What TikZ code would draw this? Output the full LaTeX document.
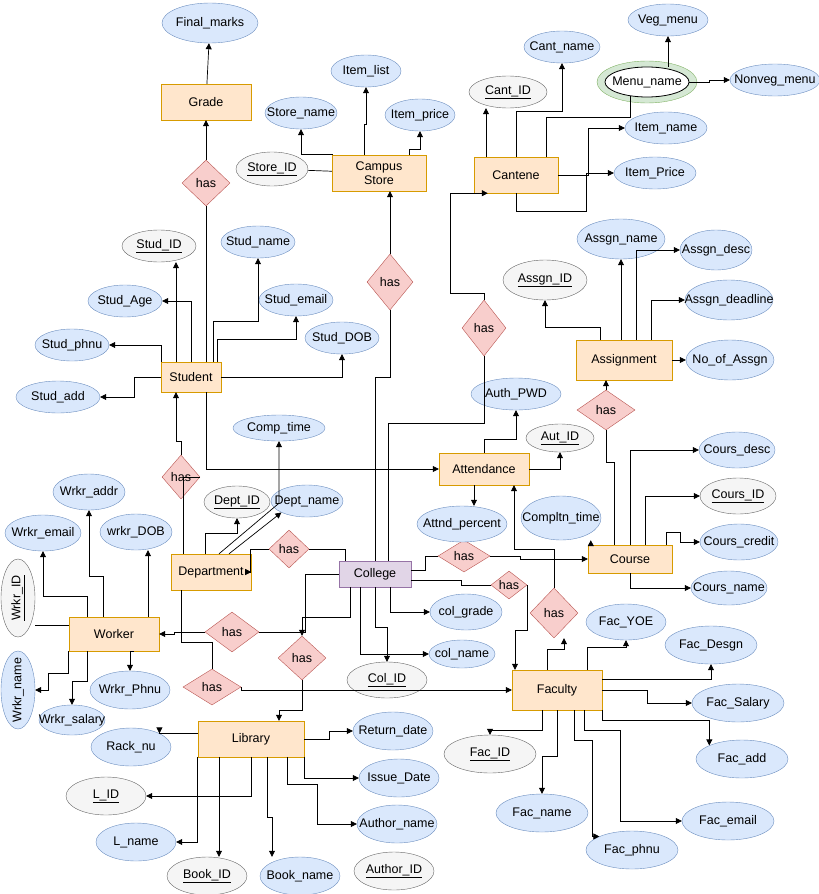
\documentclass[tikz,border=0pt]{standalone}
\usepackage{fontspec}
\setmainfont{Liberation Sans}
\usetikzlibrary{arrows.meta,shapes.geometric,calc,positioning}
\definecolor{entfill}{HTML}{FFE6CC}
\definecolor{entdraw}{HTML}{D79B00}
\definecolor{attfill}{HTML}{DAE8FC}
\definecolor{attdraw}{HTML}{6C8EBF}
\definecolor{keyfill}{HTML}{F5F5F5}
\definecolor{keydraw}{HTML}{666666}
\definecolor{relfill}{HTML}{F8CECC}
\definecolor{reldraw}{HTML}{B85450}
\definecolor{colfill}{HTML}{E1D5E7}
\definecolor{coldraw}{HTML}{9673A6}
\definecolor{ringfill}{HTML}{D5E8D4}
\definecolor{ringdraw}{HTML}{82B366}
\newcommand{\erfont}{\fontsize{12.5}{14.5}\selectfont}
\tikzset{
  entity/.style={rectangle,draw=entdraw,fill=entfill,font=\erfont,align=center,inner sep=1pt},
  attribute/.style={ellipse,draw=attdraw,fill=attfill,font=\erfont,inner xsep=-18pt,inner ysep=0pt,minimum width=78pt,minimum height=32pt},
  keyattr/.style={attribute,draw=keydraw,fill=keyfill},
  relation/.style={diamond,draw=reldraw,fill=relfill,font=\erfont,inner sep=-3pt,aspect=1},
  conn/.style={-{Triangle[length=6pt,width=6pt]},line width=0.7pt},
  plain/.style={line width=0.7pt}
}
\begin{document}
\begin{tikzpicture}[x=1pt,y=-1pt]
\useasboundingbox (0,0) rectangle (819,894);
% entities
\node[entity,minimum width=90pt,minimum height=36pt] (grade) at (206,102) {Grade};
\node[entity,minimum width=94pt,minimum height=36pt] (store) at (379,173) {Campus\\Store};
\node[entity,minimum width=84pt,minimum height=36pt] (cantene) at (516,175) {Cantene};
\node[entity,minimum width=60pt,minimum height=30pt] (student) at (191,377) {Student};
\node[entity,minimum width=90pt,minimum height=32pt] (attendance) at (484,469) {Attendance};
\node[entity,minimum width=96pt,minimum height=40pt] (assignment) at (624,360) {Assignment};
\node[entity,minimum width=80pt,minimum height=36pt] (department) at (211,572) {Department};
\node[entity,draw=coldraw,fill=colfill,minimum width=72pt,minimum height=26pt] (college) at (375,574) {College};
\node[entity,minimum width=84pt,minimum height=28pt] (course) at (630,559) {Course};
\node[entity,minimum width=90pt,minimum height=34pt] (worker) at (114,634) {Worker};
\node[entity,minimum width=90pt,minimum height=40pt] (faculty) at (557,690) {Faculty};
\node[entity,minimum width=106pt,minimum height=36pt] (library) at (251,739) {Library};
% relations
\node[relation,minimum width=48pt,minimum height=46pt] (hasgrade) at (206,183) {has};
\node[relation,minimum width=46pt,minimum height=56pt] (hasstore) at (390,282) {has};
\node[relation,minimum width=44pt,minimum height=56pt] (hascant) at (484,328) {has};
\node[relation,minimum width=58pt,minimum height=40pt] (hasassgn) at (606,410) {has};
\node[relation,minimum width=38pt,minimum height=44pt] (hasstud) at (181,477) {has};
\node[relation,minimum width=40pt,minimum height=38pt] (hasdept) at (289,549) {has};
\node[relation,minimum width=52pt,minimum height=32pt] (hascourse) at (464,556) {has};
\node[relation,minimum width=36pt,minimum height=28pt] (hasfacs) at (509,585) {has};
\node[relation,minimum width=48pt,minimum height=50pt] (hasfacc) at (554,613) {has};
\node[relation,minimum width=54pt,minimum height=40pt] (haswork) at (232,632) {has};
\node[relation,minimum width=48pt,minimum height=44pt] (haslib) at (302,658) {has};
\node[relation,minimum width=58pt,minimum height=36pt] (hasdf) at (212,687) {has};
% attributes
\node[attribute,minimum width=96pt,minimum height=40pt] (finalmarks) at (210,23) {Final\_marks};
\node[attribute,minimum width=70pt] (itemlist) at (366,71) {Item\_list};
\node[attribute,minimum width=72pt] (storename) at (301,113) {Store\_name};
\node[attribute,minimum width=70pt] (itemprice) at (420,115) {Item\_price};
\node[keyattr,minimum width=72pt,minimum height=34pt] (storeid) at (272,169) {\underline{Store\_ID}};
\node[keyattr] (cantid) at (508,92) {\underline{Cant\_ID}};
\node[attribute,minimum width=76pt] (cantname) at (562,47) {Cant\_name};
\node[ellipse,draw=ringdraw,fill=ringfill,minimum width=100pt,minimum height=42pt] (menuring) at (647,82) {};
\node[ellipse,draw,thick,fill=white,font=\erfont,inner xsep=-18pt,inner ysep=0pt,minimum width=84pt,minimum height=30pt] (menuname) at (647,82) {Menu\_name};
\node[attribute,minimum width=80pt] (vegmenu) at (668,20) {Veg\_menu};
\node[attribute,minimum width=90pt] (nonveg) at (775,80) {Nonveg\_menu};
\node[attribute,minimum width=82pt] (itemname) at (666,128) {Item\_name};
\node[attribute,minimum width=82pt] (itemprice2) at (655,173) {Item\_Price};
\node[keyattr,minimum width=74pt] (studid) at (159,246) {\underline{Stud\_ID}};
\node[attribute,minimum width=74pt] (studname) at (258,242) {Stud\_name};
\node[attribute,minimum width=74pt] (studage) at (125,301) {Stud\_Age};
\node[attribute,minimum width=74pt] (studemail) at (296,300) {Stud\_email};
\node[attribute,minimum width=74pt] (studphnu) at (72,345) {Stud\_phnu};
\node[attribute,minimum width=84pt] (studadd) at (58,397) {Stud\_add};
\node[attribute,minimum width=74pt] (studdob) at (342,338) {Stud\_DOB};
\node[attribute,minimum width=92pt,minimum height=26pt] (comptime) at (279,428) {Comp\_time};
\node[attribute,minimum width=88pt,minimum height=40pt] (assgnname) at (621,239) {Assgn\_name};
\node[attribute,minimum width=72pt,minimum height=40pt] (assgndesc) at (716,250) {Assgn\_desc};
\node[keyattr,minimum width=84pt,minimum height=40pt] (assgnid) at (545,280) {\underline{Assgn\_ID}};
\node[attribute,minimum width=88pt,minimum height=40pt] (assgndeadline) at (729,300) {Assgn\_deadline};
\node[attribute,minimum width=88pt,minimum height=40pt] (noassgn) at (730,360) {No\_of\_Assgn};
\node[attribute,minimum width=90pt] (authpwd) at (516,394) {Auth\_PWD};
\node[keyattr,minimum width=68pt,minimum height=28pt] (autid) at (560,438) {\underline{Aut\_ID}};
\node[attribute,minimum width=76pt,minimum height=36pt] (coursdesc) at (737,450) {Cours\_desc};
\node[keyattr,minimum width=76pt,minimum height=36pt] (coursid) at (738,496) {\underline{Cours\_ID}};
\node[attribute,minimum width=78pt,minimum height=36pt] (courscredit) at (739,542) {Cours\_credit};
\node[attribute,minimum width=76pt,minimum height=34pt] (coursname) at (729,588) {Cours\_name};
\node[attribute,minimum width=90pt,minimum height=36pt] (attnd) at (462,524) {Attnd\_percent};
\node[attribute,minimum width=80pt,minimum height=44pt] (compltn) at (561,518) {Compltn\_time};
\node[attribute,minimum width=72pt,minimum height=36pt] (wrkraddr) at (89,492) {Wrkr\_addr};
\node[attribute,minimum width=76pt,minimum height=36pt] (wrkremail) at (43,533) {Wrkr\_email};
\node[attribute,minimum width=72pt,minimum height=36pt] (wrkrdob) at (136,532) {wrkr\_DOB};
\node[keyattr,minimum width=66pt,minimum height=32pt] (deptid) at (237,502) {\underline{Dept\_ID}};
\node[attribute,minimum width=72pt,minimum height=32pt] (deptname) at (307,501) {Dept\_name};
\node[keyattr,rotate=90,minimum width=78pt,minimum height=34pt] (wrkrid) at (18,598) {\underline{Wrkr\_ID}};
\node[attribute,rotate=90,minimum width=78pt,minimum height=34pt] (wrkrname) at (18,690) {Wrkr\_name};
\node[attribute,minimum width=80pt,minimum height=38pt] (wrkrphnu) at (130,690) {Wrkr\_Phnu};
\node[attribute,minimum width=66pt,minimum height=30pt] (wrkrsalary) at (72,720) {Wrkr\_salary};
\node[attribute,minimum width=72pt,minimum height=36pt] (colgrade) at (466,612) {col\_grade};
\node[attribute,minimum width=66pt,minimum height=28pt] (colname) at (462,654) {col\_name};
\node[keyattr,minimum width=80pt,minimum height=36pt] (colid) at (387,680) {\underline{Col\_ID}};
\node[attribute,minimum width=80pt,minimum height=36pt] (facyoe) at (626,622) {Fac\_YOE};
\node[attribute,minimum width=92pt,minimum height=38pt] (facdesgn) at (711,645) {Fac\_Desgn};
\node[attribute,minimum width=92pt,minimum height=38pt] (facsalary) at (738,703) {Fac\_Salary};
\node[attribute,minimum width=92pt,minimum height=38pt] (facadd) at (742,759) {Fac\_add};
\node[keyattr,minimum width=92pt,minimum height=38pt] (facid) at (490,754) {\underline{Fac\_ID}};
\node[attribute,minimum width=92pt,minimum height=38pt] (facname) at (542,813) {Fac\_name};
\node[attribute,minimum width=92pt,minimum height=38pt] (facemail) at (728,821) {Fac\_email};
\node[attribute,minimum width=92pt,minimum height=38pt] (facphnu) at (632,850) {Fac\_phnu};
\node[attribute,minimum width=80pt,minimum height=38pt] (returndate) at (393,731) {Return\_date};
\node[attribute,minimum width=80pt,minimum height=38pt] (issuedate) at (399,778) {Issue\_Date};
\node[attribute,minimum width=80pt,minimum height=38pt] (authorname) at (397,824) {Author\_name};
\node[keyattr,minimum width=80pt,minimum height=38pt] (authorid) at (394,871) {\underline{Author\_ID}};
\node[attribute,minimum width=80pt,minimum height=38pt] (racknu) at (131,747) {Rack\_nu};
\node[keyattr,minimum width=80pt,minimum height=38pt] (lid) at (106,796) {\underline{L\_ID}};
\node[attribute,minimum width=80pt,minimum height=38pt] (lname) at (136,842) {L\_name};
\node[keyattr,minimum width=80pt,minimum height=38pt] (bookid) at (207,876) {\underline{Book\_ID}};
\node[attribute,minimum width=80pt,minimum height=38pt] (bookname) at (300,876) {Book\_name};
% grade and store
\draw[conn] (hasgrade) -- (grade);
\draw[conn] (grade) -- (finalmarks);
\draw[plain] (hasgrade) -- (hasgrade |- student.north);
\draw[conn] (hasstore) -- (hasstore |- store.south);
\draw[plain] (college.north) -- ++(0,-183) -| (hasstore.south);
\draw[conn] ([xshift=1pt]store.north west) -| (storename.south);
\draw[conn] ([xshift=-15pt]store.north) -- ++(0,-30) -| (itemlist.south);
\draw[conn] ([xshift=30pt]store.north) -- ++(0,-5) -| (itemprice.south);
\draw[plain] (storeid) -- (store);
% cantene
\draw[conn] (hascant.north) -- ++(0,-6) -- ++(-34,0) |- ([xshift=14pt]cantene.south west);
\draw[plain] ([xshift=13pt]college.north) -- ++(0,-137) -| (hascant.south);
\draw[conn] ([xshift=-30pt]cantene.north) -- ([xshift=-30pt]cantene.north |- cantid.south);
\draw[conn] (cantene.north) -- ++(0,-45) -| (cantname.south);
\draw[plain] ([xshift=30pt]cantene.north) -- ++(0,-39) -| (menuname.220);
\draw[conn] (cantene.east) -- ++(30,0) |- (itemname.west);
\draw[conn] (cantene.south) -- ++(0,18) -- ++(70,0) |- (itemprice2.west);
\draw[conn] (menuname.north -| vegmenu.south) -- (vegmenu.south);
\draw[conn] (menuname.east) -- ++(20,0) |- (nonveg.west);
% student
\draw[conn] ([xshift=-15pt]student.north) -- ([xshift=-15pt]student.north |- studid.south);
\draw[conn] (student.north) |- (studage.east);
\draw[conn] ([xshift=22pt]student.north) -- ++(0,-40) -| (studname.south);
\draw[conn] ([xshift=26pt]student.north) -- ++(0,-22) -| (studemail.south);
\draw[conn] (student.east) -| (studdob.south);
\draw[conn] ([xshift=1pt]student.north west) |- (studphnu.east);
\draw[conn] (student.west) -- ++(-26,0) |- (studadd.east);
\draw[conn] ([xshift=15pt]student.south) |- (attendance.west);
\draw[conn] (hasstud.north) -- ++(0,-13) -| ([xshift=-15pt]student.south);
\draw[plain] ([xshift=-28pt]department.north) |- (hasstud.east);
% assignment
\draw[conn] (hasassgn.north) -- (hasassgn.north |- assignment.south);
\draw[plain] (hasassgn.south) -- ++(0,32) -| ([xshift=-16pt]course.north);
\draw[conn] ([xshift=-24pt]assignment.north) -- ++(0,-12) -| (assgnid.south);
\draw[conn] (assignment.north -| assgnname.south) -- (assgnname.south);
\draw[conn] ([xshift=12pt]assignment.north) |- (assgndesc.west);
\draw[conn] ([xshift=27pt]assignment.north) |- (assgndeadline.west);
\draw[conn] (assignment.east) -- (noassgn.west);
% attendance
\draw[conn] (attendance.north) -- ++(0,-13) -| (authpwd.south);
\draw[conn] (attendance.east) -| (autid.south);
\draw[conn] ([xshift=-10pt]attendance.south) -- ([xshift=-10pt]attendance.south |- attnd.north);
\draw[conn] (hasfacc.north) -- ++(0,-38) -| ([xshift=30pt]attendance.south);
\draw[conn] ([xshift=-10pt]faculty.north) -- ++(0,-20) -| ([xshift=10pt]hasfacc.south);
% course
\draw[plain] ([yshift=4pt]college.east) -- ++(14,0) |- (hascourse.west);
\draw[conn] (hascourse.east) -- ++(30,0) |- (course.west);
\draw[conn] ([xshift=3pt]course.north west) -- ([xshift=3pt]course.north west |- compltn.south);
\draw[conn] (course.north) |- (coursdesc.west);
\draw[conn] ([xshift=15pt]course.north) |- (coursid.west);
\draw[conn] ([xshift=-6pt]course.north east) -- ++(0,-12) -- ++(14,0) |- (courscredit.west);
\draw[conn] (course.south) |- (coursname.west);
% college
\draw[plain] ([yshift=-6pt]college.east) -- ++(50,0) |- (hasfacs.west);
\draw[conn] (hasfacs.east) -- ++(0,45) -| ([xshift=-42pt]faculty.north);
\draw[conn] ([xshift=15pt]college.south) |- (colgrade.west);
\draw[conn] ([xshift=-15pt]college.south) |- (colname.west);
\draw[conn] (college.south) -- ++(0,40) -| (colid.north);
\draw[plain] (college.west) -- ++(-33,0) |- (haswork.east);
\draw[conn] (haswork.west) -- ++(-30,0) |- (worker.east);
\draw[conn] ([xshift=-25pt]college.south) -- ++(0,30) -| (haslib.north);
\draw[conn] (haslib.south) -- ++(0,30) -| ([xshift=28pt]library.north);
\draw[plain] (hasdept.east) -| ([xshift=-30pt]college.north);
\draw[conn] (hasdept.west) -- ++(-18,0) |- (department.east);
% department
\draw[conn] ([xshift=-6pt]department.north) -- ++(0,-20) -| (deptid.south);
\draw[conn] ([xshift=18pt]department.north) -- (deptname.south west);
\draw[conn] ([xshift=8pt]department.north) -- ($(comptime.south)+(0,62)$) -- (comptime.south);
\draw[plain] ([xshift=-30pt]department.south) -- ++(0,52) -| (hasdf.north);
\draw[conn] (hasdf.east) |- (faculty.west);
% worker
\draw[plain] ([yshift=9pt]worker.west) -- ([yshift=9pt]worker.west -| wrkrid.south);
\draw[conn] (worker.south west) -- ++(0,22) -- ++(-20,0) |- (wrkrname.south);
\draw[conn] ([xshift=-27pt]worker.south) -- ++(0,30) -| (wrkrsalary.north);
\draw[conn] ([xshift=20pt]worker.south) -| (wrkrphnu.north);
\draw[conn] ([xshift=-27pt]worker.north) -- ++(0,-20) -| (wrkremail.south);
\draw[conn] ([xshift=-11pt]worker.north) -- ++(0,-40) -| (wrkraddr.south);
\draw[conn] ([xshift=34pt]worker.north) -- ([xshift=34pt]worker.north |- wrkrdob.south);
% faculty
\draw[conn] ([xshift=30pt]faculty.north) -- ++(0,-22) -| (facyoe.south);
\draw[conn] ($(faculty.north east)+(0,10)$) -| (facdesgn.south);
\draw[conn] (faculty.east) -- ++(45,0) |- (facsalary.west);
\draw[conn] (faculty.south east) -- ++(0,10) -| (facadd.north west);
\draw[conn] ([xshift=27pt]faculty.south) -- ++(0,20) -- ++(36,0) |- (facemail.west);
\draw[conn] ([xshift=17pt]faculty.south) -- ++(0,30) -- ++(18,0) |- (facphnu.north west);
\draw[conn] (faculty.south) -- ++(0,46) -| (facname.north);
\draw[conn] ([xshift=-15pt]faculty.south) -- ++(0,20) -| (facid.north);
% library
\draw[conn] (library.east) -- ++(25,0) |- (returndate.west);
\draw[conn] (library.south east) |- (issuedate.west);
\draw[conn] ([xshift=-17pt]library.south east) -- ++(0,27) -- ++(30,0) |- (authorname.west);
\draw[conn] ([xshift=16pt]library.south) -- ++(0,60) -| ([xshift=-28pt]bookname.north);
\draw[conn] ([xshift=-32pt]library.south) -- ([xshift=-32pt]library.south |- bookid.north);
\draw[conn] (library.south west) |- (lname.east);
\draw[conn] (library.south) |- (lid.east);
\draw[conn] ([yshift=6pt]library.west) -| (racknu.north east);
\end{tikzpicture}
\end{document}
